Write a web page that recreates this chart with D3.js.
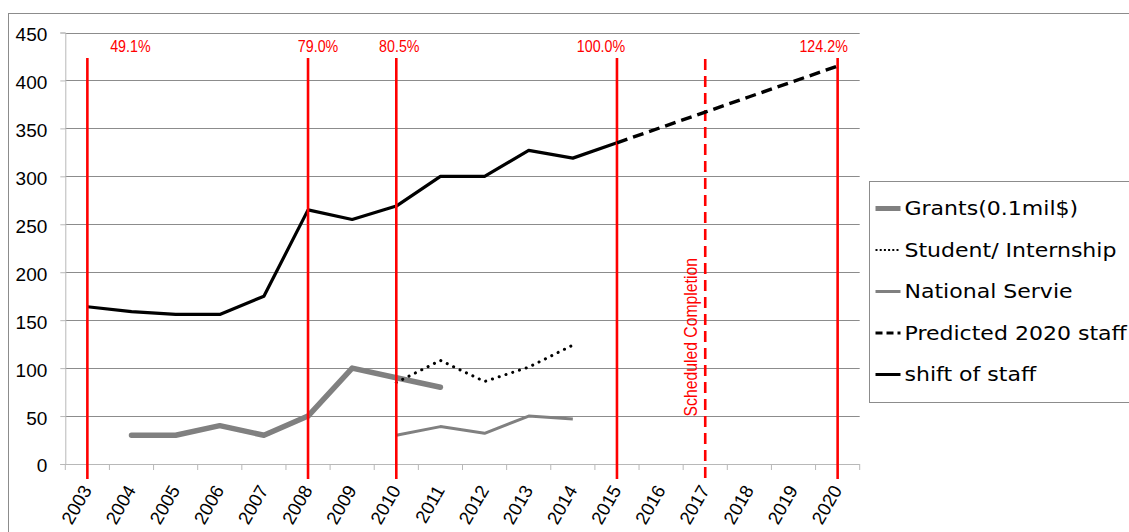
<!DOCTYPE html>
<html>
<head>
<meta charset="utf-8">
<script src="https://cdn.jsdelivr.net/npm/d3@7"></script>
<style>
  body { margin: 0; background: #fff; }
  svg { display: block; font-family: "Liberation Sans", Arial, sans-serif; }
</style>
</head>
<body>
<svg id="chart" width="1129" height="532"></svg>
<script>
// ---- data ----
const years = [2003, 2004, 2005, 2006, 2007, 2008, 2009, 2010, 2011, 2012, 2013, 2014, 2015, 2016, 2017, 2018, 2019, 2020];
const yTicks = [0, 50, 100, 150, 200, 250, 300, 350, 400, 450];

const grantYears = [2004, 2005, 2006, 2007, 2008, 2009, 2010, 2011];
const grants = [30, 30, 40, 30, 50, 100, 90, 80];

const studentYears = [2010, 2011, 2012, 2013, 2014];
const student = [85, 108, 86, 101, 124];

const nationalYears = [2010, 2011, 2012, 2013, 2014];
const national = [30, 39, 32, 50, 47];

const staffYears = [2003, 2004, 2005, 2006, 2007, 2008, 2009, 2010, 2011, 2012, 2013, 2014, 2015];
const staff = [164, 159, 156, 156, 175, 265, 255, 269, 300, 300, 327, 319, 335];

const predictedYears = [2015, 2016, 2017, 2018, 2019, 2020];
const predicted = [335, 351, 367, 383, 399, 415];

const markerYears = [2003, 2008, 2010, 2015, 2020];
const markerLabels = ["49.1%", "79.0%", "80.5%", "100.0%", "124.2%"];

const completionYear = 2017;
const completionLabel = "Scheduled Completion";

const legendNames = ["Grants(0.1mil$)", "Student/ Internship", "National Servie", "Predicted 2020 staff", "shift of staff"];

// ---- layout ----
const plot = { left: 65.3, right: 859.7, top: 32.5, bottom: 464 };
const markerLabelDx = [43, 10, 3, -16, -14];   // label offset from its line
const svg = d3.select("#chart");

const x = d3.scaleBand().domain(years).range([plot.left, plot.right]).padding(0);
const cx = yr => x(yr) + x.bandwidth() / 2;
const y = d3.scaleLinear().domain([0, 450]).range([plot.bottom, plot.top]);

// outer chart frame
svg.append("rect")
  .attr("x", 8.5).attr("y", 13.5).attr("width", 1140).attr("height", 540)
  .attr("fill", "#fff").attr("stroke", "#8c8c8c").attr("stroke-width", 1);

// horizontal gridlines
svg.append("g").selectAll("line")
  .data(yTicks.filter(d => d > 0))
  .join("line")
  .attr("x1", plot.left).attr("x2", plot.right)
  .attr("y1", d => Math.round(y(d)) + 0.5).attr("y2", d => Math.round(y(d)) + 0.5)
  .attr("stroke", "#8c8c8c").attr("stroke-width", 1);

// y axis
const yAxis = svg.append("g")
  .attr("transform", `translate(${plot.left},0)`)
  .call(d3.axisLeft(y).tickValues(yTicks).tickSize(5).tickPadding(13));
yAxis.select(".domain").attr("stroke", "#b8b8b8");
yAxis.selectAll(".tick line").attr("stroke", "#b8b8b8");
yAxis.selectAll(".tick text")
  .attr("font-family", "Liberation Sans, Arial, sans-serif")
  .attr("font-size", 19).attr("fill", "#000").attr("dy", "0.42em");

// x axis: baseline + ticks at category boundaries
const xg = svg.append("g");
xg.append("line")
  .attr("x1", plot.left).attr("x2", plot.right)
  .attr("y1", plot.bottom + 0.5).attr("y2", plot.bottom + 0.5)
  .attr("stroke", "#b8b8b8");
xg.selectAll("line.tk")
  .data(years.concat([null]))
  .join("line").attr("class", "tk")
  .attr("x1", (d, i) => plot.left + i * x.bandwidth())
  .attr("x2", (d, i) => plot.left + i * x.bandwidth())
  .attr("y1", plot.bottom).attr("y2", plot.bottom + 6)
  .attr("stroke", "#b8b8b8");
xg.selectAll("text")
  .data(years)
  .join("text")
  .attr("transform", d => `translate(${cx(d) + 5},${plot.bottom + 26}) rotate(-60)`)
  .attr("text-anchor", "end")
  .attr("font-size", 18.5)
  .attr("fill", "#000")
  .text(d => d);

// ---- series ----
const lineOf = (yrs, vals) => d3.line().x((d, i) => cx(yrs[i])).y(d => y(d))(vals);

svg.append("path")
  .attr("d", lineOf(grantYears, grants))
  .attr("fill", "none").attr("stroke", "#808080").attr("stroke-width", 5.5)
  .attr("stroke-linejoin", "round").attr("stroke-linecap", "round");

svg.append("path")
  .attr("d", lineOf(nationalYears, national))
  .attr("fill", "none").attr("stroke", "#808080").attr("stroke-width", 3)
  .attr("stroke-linejoin", "round");

svg.append("path")
  .attr("d", lineOf(studentYears, student))
  .attr("fill", "none").attr("stroke", "#000").attr("stroke-width", 3)
  .attr("stroke-dasharray", "0.1 7").attr("stroke-linecap", "round");

svg.append("path")
  .attr("d", lineOf(staffYears, staff))
  .attr("fill", "none").attr("stroke", "#000").attr("stroke-width", 3.2)
  .attr("stroke-linejoin", "round");

// ---- milestone lines ----
const red = "#ff0000";
const mk = svg.append("g");
mk.selectAll("line")
  .data(markerYears)
  .join("line")
  .attr("x1", d => cx(d)).attr("x2", d => cx(d))
  .attr("y1", 58).attr("y2", 479)
  .attr("stroke", red).attr("stroke-width", 2.6);

mk.append("line")
  .attr("x1", cx(completionYear)).attr("x2", cx(completionYear))
  .attr("y1", 59).attr("y2", 479)
  .attr("stroke", red).attr("stroke-width", 2.6)
  .attr("stroke-dasharray", "11 6");

svg.append("path")
  .attr("d", lineOf(predictedYears, predicted))
  .attr("fill", "none").attr("stroke", "#000").attr("stroke-width", 3.4)
  .attr("stroke-dasharray", "11 6");

// percentage labels, drawn in a slightly condensed face
mk.selectAll("text.pct")
  .data(markerYears)
  .join("text").attr("class", "pct")
  .attr("transform", (d, i) => `translate(${cx(d) + markerLabelDx[i]},51.5) scale(0.84,1)`)
  .attr("text-anchor", "middle")
  .attr("font-size", 17)
  .attr("fill", red)
  .text((d, i) => markerLabels[i]);

mk.append("text")
  .attr("transform", `translate(${cx(completionYear) - 8},416.5) rotate(-90) scale(0.83,1)`)
  .attr("font-size", 19)
  .attr("fill", red)
  .text(completionLabel);

// ---- legend ----
const lg = svg.append("g").attr("transform", "translate(869.5,181.5)");
lg.append("rect")
  .attr("width", 300).attr("height", 221)
  .attr("fill", "#fff").attr("stroke", "#8c8c8c");

const swatch = [
  { stroke: "#808080", w: 5, dash: null },
  { stroke: "#000", w: 2, dash: "2 2.2" },
  { stroke: "#808080", w: 3, dash: null },
  { stroke: "#000", w: 3, dash: "7 4" },
  { stroke: "#000", w: 3, dash: null }
];
const row = lg.selectAll("g.row")
  .data(legendNames)
  .join("g").attr("class", "row")
  .attr("transform", (d, i) => `translate(0,${27 + i * 41.5})`);
row.append("line")
  .attr("x1", 6).attr("x2", 31)
  .attr("stroke", (d, i) => swatch[i].stroke)
  .attr("stroke-width", (d, i) => swatch[i].w)
  .attr("stroke-dasharray", (d, i) => swatch[i].dash);
row.append("text")
  .attr("transform", "translate(35,6.5) scale(1.16,1)")
  .attr("font-family", "DejaVu Sans, sans-serif")
  .attr("font-size", 19)
  .attr("fill", "#000")
  .text(d => d);
</script>
</body>
</html>
